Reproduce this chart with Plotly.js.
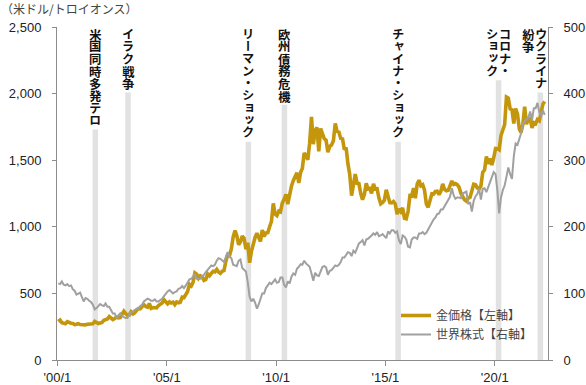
<!DOCTYPE html>
<html>
<head>
<meta charset="utf-8">
<script src="https://cdn.plot.ly/plotly-3.0.1.min.js"></script>
<style>
  html, body { margin: 0; padding: 0; background: #fff; }
  #chart { width: 586px; height: 385px; }
</style>
</head>
<body>
<div id="chart"></div>
<script>
// ---------------- DATA ----------------
const startYear = 2000;           // monthly series start (Jan 2000)
const seriesNames = ["金価格【左軸】", "世界株式【右軸】"];
const yTitle = "（米ドル/トロイオンス）";

// Gold price (USD / troy ounce), monthly, left axis
const gold2000 = [289, 300, 280, 276, 272, 288, 278, 276, 274, 266, 268, 273];
const gold2001 = [266, 264, 260, 264, 268, 270, 266, 272, 290, 280, 274, 278];
const gold2002 = [282, 298, 302, 308, 326, 318, 304, 312, 322, 316, 318, 342];
const gold2003 = [366, 348, 336, 338, 362, 346, 354, 372, 386, 384, 396, 416];
const gold2004 = [402, 396, 424, 388, 394, 396, 392, 408, 416, 428, 452, 436];
const gold2005 = [422, 436, 428, 434, 416, 436, 430, 434, 472, 468, 494, 514];
const gold2006 = [568, 556, 582, 654, 644, 614, 632, 624, 598, 604, 646, 632];
const gold2007 = [650, 666, 662, 680, 660, 650, 666, 672, 742, 788, 784, 834];
const gold2008 = [924, 972, 934, 866, 886, 930, 914, 832, 880, 730, 816, 870];
const gold2009 = [920, 952, 916, 890, 976, 928, 954, 956, 1000, 1040, 1176, 1096];
const gold2010 = [1084, 1118, 1112, 1180, 1206, 1244, 1170, 1248, 1306, 1346, 1386, 1406];
const gold2011 = [1330, 1410, 1438, 1554, 1536, 1502, 1628, 1826, 1620, 1722, 1746, 1566];
const gold2012 = [1738, 1696, 1662, 1650, 1560, 1604, 1614, 1646, 1776, 1716, 1712, 1664];
const gold2013 = [1660, 1578, 1596, 1472, 1394, 1234, 1312, 1396, 1326, 1324, 1250, 1204];
const gold2014 = [1244, 1326, 1284, 1288, 1250, 1322, 1284, 1286, 1216, 1172, 1182, 1200];
const gold2015 = [1278, 1212, 1182, 1180, 1190, 1172, 1094, 1134, 1114, 1142, 1064, 1060];
const gold2016 = [1118, 1234, 1232, 1290, 1214, 1322, 1350, 1308, 1316, 1276, 1172, 1146];
const gold2017 = [1210, 1248, 1246, 1266, 1268, 1242, 1266, 1322, 1280, 1270, 1274, 1302];
const gold2018 = [1344, 1318, 1324, 1316, 1298, 1252, 1224, 1202, 1192, 1214, 1222, 1282];
const gold2019 = [1320, 1316, 1292, 1284, 1306, 1410, 1426, 1528, 1472, 1512, 1464, 1516];
const gold2020 = [1588, 1586, 1578, 1686, 1730, 1768, 1974, 1966, 1886, 1878, 1776, 1888];
const gold2021 = [1848, 1734, 1708, 1768, 1902, 1770, 1814, 1812, 1742, 1782, 1774, 1806];
const gold2022 = [1796, 1880, 1920, 1940];

// World equities index, monthly, right axis
const stock2000 = [115, 114, 118, 113, 112, 114, 111, 112, 106, 104, 98, 100];
const stock2001 = [101, 94, 88, 93, 92, 89, 87, 83, 76, 78, 82, 84];
const stock2002 = [82, 81, 85, 80, 80, 75, 70, 70, 63, 67, 70, 66];
const stock2003 = [64, 63, 63, 68, 72, 73, 75, 77, 77, 81, 83, 88];
const stock2004 = [90, 92, 91, 89, 89, 91, 88, 88, 90, 92, 96, 100];
const stock2005 = [103, 105, 103, 100, 102, 103, 107, 108, 111, 108, 112, 116];
const stock2006 = [121, 122, 125, 129, 122, 122, 122, 126, 128, 132, 135, 139];
const stock2007 = [142, 141, 143, 149, 153, 152, 149, 147, 155, 162, 155, 153];
const stock2008 = [143, 142, 141, 149, 151, 138, 135, 133, 117, 95, 88, 92];
const stock2009 = [86, 77, 83, 92, 100, 100, 108, 112, 116, 114, 118, 121];
const stock2010 = [116, 117, 124, 124, 113, 109, 118, 115, 125, 130, 128, 137];
const stock2011 = [140, 144, 143, 149, 145, 143, 140, 130, 119, 131, 127, 126];
const stock2012 = [133, 140, 141, 139, 128, 134, 135, 138, 142, 141, 143, 147];
const stock2013 = [154, 154, 157, 162, 161, 156, 164, 161, 168, 175, 177, 180];
const stock2014 = [172, 181, 182, 184, 187, 190, 188, 192, 186, 187, 189, 186];
const stock2015 = [183, 193, 190, 195, 195, 191, 193, 180, 174, 187, 185, 181];
const stock2016 = [170, 169, 181, 184, 184, 182, 190, 190, 192, 189, 191, 196];
const stock2017 = [202, 208, 211, 214, 219, 220, 226, 226, 231, 236, 241, 245];
const stock2018 = [258, 247, 242, 244, 244, 243, 250, 252, 253, 234, 237, 223];
const stock2019 = [239, 246, 249, 257, 241, 257, 258, 252, 259, 266, 275, 282];
const stock2020 = [279, 254, 220, 244, 255, 262, 275, 289, 279, 272, 306, 325];
const stock2021 = [323, 331, 340, 354, 359, 362, 364, 373, 360, 378, 378, 386];
const stock2022 = [372, 366, 375, 368];

// Events (vertical bands with labels); label columns read right-to-left
const eventDates = ["2001-09-25", "2003-03-25", "2008-09-25", "2010-05-20", "2015-08-01", "2020-03-05", "2022-02-01"];
const eventLabels = [
  ["米国同時多発テロ"],
  ["イラク戦争"],
  ["リーマン・ショック"],
  ["欧州債務危機"],
  ["チャイナ・ショック"],
  ["コロナ・", "ショック"],
  ["ウクライナ", "紛争"]
];

// Axis ticks
const xTickVals = ["2000-01-01", "2005-01-01", "2010-01-01", "2015-01-01", "2020-01-01"];
const xTickText = ["'00/1", "'05/1", "'10/1", "'15/1", "'20/1"];
const leftTicks = [0, 500, 1000, 1500, 2000, 2500];
const rightTicks = [0, 100, 200, 300, 400, 500];

// ---------------- BUILD ----------------
const goldVals = [].concat(gold2000, gold2001, gold2002, gold2003, gold2004, gold2005, gold2006,
  gold2007, gold2008, gold2009, gold2010, gold2011, gold2012, gold2013, gold2014, gold2015,
  gold2016, gold2017, gold2018, gold2019, gold2020, gold2021, gold2022);
const stockVals = [].concat(stock2000, stock2001, stock2002, stock2003, stock2004, stock2005, stock2006,
  stock2007, stock2008, stock2009, stock2010, stock2011, stock2012, stock2013, stock2014, stock2015,
  stock2016, stock2017, stock2018, stock2019, stock2020, stock2021, stock2022);

function monthDates(n) {
  const out = [];
  for (let i = 0; i < n; i++) {
    const y = startYear + Math.floor(i / 12);
    const m = (i % 12) + 1;
    out.push(y + "-" + String(m).padStart(2, "0") + "-15");
  }
  return out;
}
const goldDates = monthDates(goldVals.length);
const stockDates = monthDates(stockVals.length);

// Styles
const GOLD = "#C4960C";
const GREY = "#A0A0A0";
const BAND = "#E2E2E2";
const AXIS = "#8C8C8C";
const TXT = "#222222";
const numFont = "Liberation Sans, Arial, Noto Sans CJK JP, sans-serif";
const jpFont = "Noto Sans CJK JP, sans-serif";

const W = 586, H = 385;
const M = { l: 57, r: 38, t: 27, b: 25 };
const plotH = H - M.t - M.b;
const charStep = 12.3;      // vertical pitch of the vertical event labels (px)
const colStep = 13;         // spacing between text columns (px)
const labelTopGap = 1;      // px between plot top and first character
const bandHalfDays = 46;    // half width of an event band
const plotLeftDate = "1999-12-25";
const plotRightDate = "2022-06-09";

const traces = [
  { x: goldDates, y: goldVals, name: seriesNames[0], type: "scatter", mode: "lines",
    line: { color: GOLD, width: 3.6 }, yaxis: "y" },
  { x: stockDates, y: stockVals, name: seriesNames[1], type: "scatter", mode: "lines",
    line: { color: GREY, width: 2 }, yaxis: "y2" }
];

const shapes = [];
const annotations = [];
const verticalChars = [];   // {idx, row}
const dayMs = 86400000;
const leftLimitMs = new Date(plotLeftDate).getTime();
const rightLimitMs = new Date(plotRightDate).getTime();
const pxPerMs = (W - M.l - M.r) / (rightLimitMs - leftLimitMs);

eventDates.forEach((d, k) => {
  const t = new Date(d).getTime();
  const cols = eventLabels[k];
  const maxLen = Math.max(...cols.map(c => c.length));
  const topPx = labelTopGap + maxLen * charStep + 3;
  shapes.push({
    type: "rect", xref: "x", yref: "paper", layer: "below",
    x0: new Date(t - bandHalfDays * dayMs).toISOString().slice(0, 10),
    x1: new Date(t + bandHalfDays * dayMs).toISOString().slice(0, 10),
    y0: 0, y1: 1 - topPx / plotH,
    fillcolor: BAND, line: { width: 0 }
  });
  const n = cols.length;
  let offs = cols.map((c, j) => ((n - 1) / 2 - j) * colStep);
  const maxOff = (rightLimitMs - t) * pxPerMs - 7;
  if (offs[0] > maxOff) { const s = offs[0] - maxOff; offs = offs.map(o => o - s); }
  cols.forEach((col, j) => {
    Array.from(col).forEach((ch, i) => {
      verticalChars.push({ idx: annotations.length, row: i });
      annotations.push({
        xref: "x", yref: "paper", x: d, y: 1, xshift: offs[j],
        yshift: -(labelTopGap + 6 + i * charStep),
        xanchor: "center", yanchor: "middle", showarrow: false,
        text: ch,
        font: { family: jpFont, size: charStep, color: "#111", weight: "bold" }
      });
    });
  });
});

annotations.push({
  xref: "paper", yref: "paper", x: 0, y: 1, xshift: -M.l - 1, yshift: 19,
  xanchor: "left", yanchor: "middle", showarrow: false,
  text: yTitle, font: { family: jpFont, size: 12, color: "#444" }
});

const layout = {
  width: W, height: H,
  margin: M,
  paper_bgcolor: "#fff", plot_bgcolor: "#fff",
  showlegend: true,
  legend: {
    x: (396 - M.l) / (W - M.l - M.r), xanchor: "left",
    y: (H - M.b - 301) / plotH, yanchor: "top",
    bgcolor: "rgba(0,0,0,0)", borderwidth: 0,
    font: { family: jpFont, size: 12, color: "#444" },
    tracegroupgap: 0
  },
  xaxis: {
    type: "date", range: [plotLeftDate, plotRightDate],
    tickvals: xTickVals, ticktext: xTickText,
    showgrid: false, zeroline: false,
    showline: true, linecolor: AXIS, linewidth: 1,
    ticks: "outside", ticklen: 5, tickcolor: AXIS, tickwidth: 1,
    tickfont: { family: numFont, size: 13, color: TXT }
  },
  yaxis: {
    range: [0, 2500], tickvals: leftTicks, tickformat: ",d",
    showgrid: false, zeroline: false,
    showline: true, linecolor: AXIS, linewidth: 1,
    ticks: "outside", ticklen: 4, tickcolor: AXIS, tickwidth: 1,
    ticklabelstandoff: 8,
    tickfont: { family: numFont, size: 13, color: TXT }
  },
  yaxis2: {
    range: [0, 500], tickvals: rightTicks, overlaying: "y", side: "right",
    showgrid: false, zeroline: false,
    showline: true, linecolor: AXIS, linewidth: 1,
    ticks: "outside", ticklen: 4, tickcolor: AXIS, tickwidth: 1,
    ticklabelstandoff: 8,
    tickfont: { family: numFont, size: 13, color: TXT }
  },
  shapes: shapes,
  annotations: annotations
};

// Each label character is its own annotation; switch it to vertical
// writing mode (upright glyph forms for ー, ッ, ョ …) keeping the
// horizontal centre that Plotly computed from the x axis.
function makeVertical(gd) {
  const root = gd.getBoundingClientRect();
  verticalChars.forEach(({ idx, row }) => {
    const g = gd.querySelector('g.annotation[data-index="' + idx + '"]');
    if (!g) return;
    const txt = g.querySelector("text.annotation-text");
    if (!txt) return;
    const r0 = txt.getBoundingClientRect();
    const cx = r0.left + r0.width / 2 - root.left;
    txt.style.writingMode = "vertical-rl";
    txt.style.textOrientation = "mixed";
    txt.setAttribute("text-anchor", "start");
    txt.setAttribute("transform", "");
    const r1 = txt.getBoundingClientRect();
    const dx = cx - (r1.left + r1.width / 2 - root.left);
    const dy = (M.t + labelTopGap + row * charStep) - (r1.top - root.top);
    txt.setAttribute("transform", "translate(" + dx + "," + dy + ")");
  });
}

Plotly.newPlot("chart", traces, layout, { displayModeBar: false, staticPlot: true })
  .then(makeVertical);
</script>
</body>
</html>
